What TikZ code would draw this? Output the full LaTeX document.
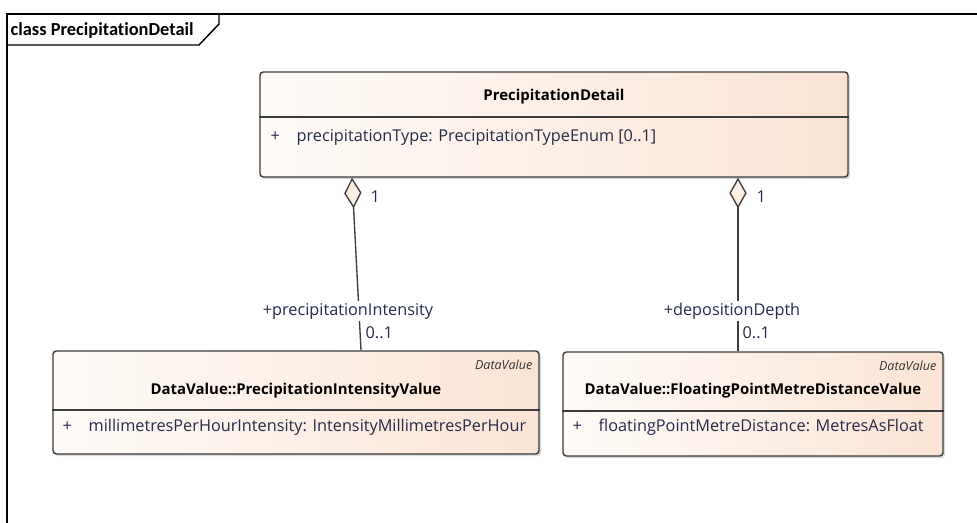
\documentclass[tikz,border=0pt]{standalone}
\usepackage{fontspec}
\setmainfont{Open Sans}
\newfontfamily\tabfont[Ligatures=NoCommon]{Carlito}
\usetikzlibrary{arrows.meta}
\usetikzlibrary{shadows}

\definecolor{classLeft}{RGB}{254,251,248}
\definecolor{classRight}{RGB}{251,228,212}
\definecolor{umlLine}{RGB}{60,60,60}
\definecolor{umlText}{RGB}{36,42,74}
\definecolor{diamondFill}{RGB}{252,239,226}

\begin{document}
\begin{tikzpicture}[
    x=0.75pt, y=-0.75pt,    % one unit is one pixel, y grows downwards
    line width=1pt,
    umlLine,
    font=\fontsize{12.2}{14}\selectfont,
    classBox/.style={rectangle, draw=umlLine, line width=1.1pt,
        rounded corners=2.5pt, left color=classLeft, right color=classRight,
        drop shadow={shadow xshift=1.6pt, shadow yshift=-1.6pt, opacity=0.3},
        inner sep=0pt},
    className/.style={font=\fontsize{11.2}{13}\selectfont\bfseries, text=black, inner sep=0pt},
    stereo/.style={font=\fontsize{9.4}{11}\selectfont\itshape, text=black!80, anchor=east, inner sep=0pt},
    attr/.style={anchor=west, text=umlText, inner sep=0pt},
    aggr/.style={draw=umlLine, line width=1pt,
        {Diamond[length=23pt, width=13pt, fill=diamondFill, line width=1pt]}-},
    role/.style={fill=white, text=umlText, inner sep=1.5pt},
    mult/.style={text=umlText, inner sep=0pt},
    ]

    % Determines the boundries
    \path[use as bounding box] (0,0) rectangle (977,523);

    \def\pxl{0.75pt}        % size of one pixel

    % The diagram frame and its tab
    \draw[black, line width=1.1pt] (977,14) -- (7,14) -- (7,523);
    \draw[black, line width=1.1pt] (7,45) -- (199,45) -- (219,24) -- (219,14);
    \node[anchor=west, inner sep=0pt, text=black] (frameTitle) at (10,30)
        {\tabfont\fontsize{13.8}{15}\selectfont\bfseries class PrecipitationDetail};

    % The classes
    \node[classBox, minimum width=588*\pxl, minimum height=105*\pxl] (pd) at (554,124.5) {};
    \node[classBox, minimum width=486*\pxl, minimum height=103*\pxl] (pival) at (296,402.5) {};
    \node[classBox, minimum width=380*\pxl, minimum height=104*\pxl] (fpval) at (753,404) {};

    % Compartment lines
    \draw[line width=1.1pt] (pd.west |- 0,117) -- (pd.east |- 0,117);
    \draw[line width=1.1pt] (pival.west |- 0,410) -- (pival.east |- 0,410);
    \draw[line width=1.1pt] (fpval.west |- 0,411) -- (fpval.east |- 0,411);

    % Names, stereotypes and attributes
    \node[className] (pdName) at (554,97) {PrecipitationDetail};
    \node[attr] (pdPlus) at (270,137) {+};
    \node[attr] (pdAttr) at (296,137) {precipitationType: PrecipitationTypeEnum [0..1]};

    \node[stereo] (pivalStereo) at (533,365) {DataValue};
    \node[className] (pivalName) at (296,391) {DataValue::PrecipitationIntensityValue};
    \node[attr] (pivalPlus) at (62,427) {+};
    \node[attr] (pivalAttr) at (88,427) {millimetresPerHourIntensity: IntensityMillimetresPerHour};

    \node[stereo] (fpvalStereo) at (937,366) {DataValue};
    \node[className] (fpvalName) at (753,391) {DataValue::FloatingPointMetreDistanceValue};
    \node[attr] (fpvalPlus) at (572,427) {+};
    \node[attr] (fpvalAttr) at (598,427) {floatingPointMetreDistance: MetresAsFloat};

    % The aggregations
    \foreach \part/\roleName/\xTop/\xBot/\xRole/\xMult in
        {pival/precipitationIntensity/352/361/348/365,
         fpval/depositionDepth/738/738/732/742}{
        \draw[aggr] (pd.south -| \xTop,0) -- (\part.north -| \xBot,0);
        \node[role] (role-\part) at (\xRole,311) {+\roleName};
        \node[mult, anchor=west] (multTop-\part) at (\xTop+18,197) {1};
        \node[mult, anchor=west] (multBot-\part) at (\xMult,333) {0..1};
    }
\end{tikzpicture}
\end{document}
